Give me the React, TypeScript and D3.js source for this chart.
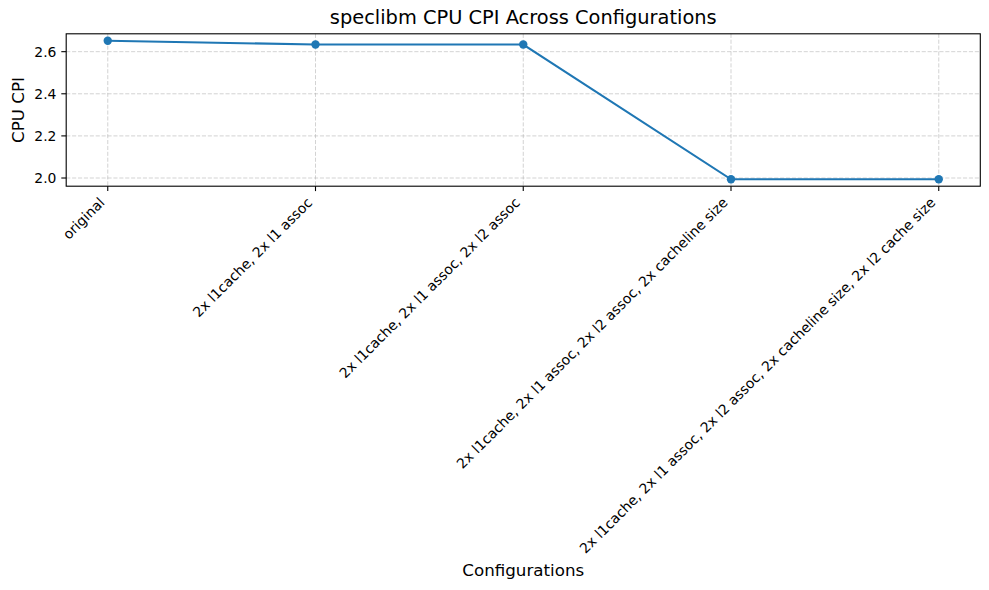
import React from "react";
import * as d3 from "d3";

const categories = [
  "original",
  "2x l1cache, 2x l1 assoc",
  "2x l1cache, 2x l1 assoc, 2x l2 assoc",
  "2x l1cache, 2x l1 assoc, 2x l2 assoc, 2x cacheline size",
  "2x l1cache, 2x l1 assoc, 2x l2 assoc, 2x cacheline size, 2x l2 cache size",
];
const cpiValues = [2.652, 2.634, 2.634, 1.994, 1.994];
const yTicks = [2.0, 2.2, 2.4, 2.6];

const W = 989;
const H = 590;
const left = 66.2;
const right = 980.3;
const top = 33.8;
const bottom = 186.2;
const FONT = "DejaVu Sans, sans-serif";

export default function App() {
  const n = categories.length;
  const x = d3
    .scaleLinear()
    .domain([-0.2, n - 1 + 0.2])
    .range([left, right]);
  const ymin = d3.min(cpiValues)!;
  const ymax = d3.max(cpiValues)!;
  const pad = (ymax - ymin) * 0.05;
  const y = d3
    .scaleLinear()
    .domain([ymin - pad, ymax + pad])
    .range([bottom, top]);
  const line = d3
    .line<number>()
    .x((_, i) => x(i))
    .y((d) => y(d));

  const tickLen = 4.9;
  const labelTop = bottom + tickLen + 4.9;
  const fs = 13.9;
  const asc = fs * 0.76;
  const desc = fs * 0.24;
  const s2 = Math.SQRT2;

  return (
    <svg width={W} height={H} style={{ display: "block", position: "absolute", left: 0, top: 0 }}>
      <rect x={0} y={0} width={W} height={H} fill="#ffffff" />
      {/* grid */}
      <g stroke="#b0b0b0" strokeOpacity={0.7} strokeWidth={0.8} strokeDasharray="4.1,1.8">
        {categories.map((_, i) => (
          <line key={"gx" + i} x1={x(i)} x2={x(i)} y1={top} y2={bottom} />
        ))}
        {yTicks.map((t) => (
          <line key={"gy" + t} x1={left} x2={right} y1={y(t)} y2={y(t)} />
        ))}
      </g>
      {/* line and markers */}
      <path d={line(cpiValues) || ""} fill="none" stroke="#1f77b4" strokeWidth={2.08} />
      {cpiValues.map((v, i) => (
        <circle key={"p" + i} cx={x(i)} cy={y(v)} r={4.2} fill="#1f77b4" />
      ))}
      {/* frame */}
      <rect x={left} y={top} width={right - left} height={bottom - top} fill="none" stroke="#000" strokeWidth={1.1} />
      {/* y ticks */}
      {yTicks.map((t) => (
        <g key={"yt" + t}>
          <line x1={left - tickLen} x2={left} y1={y(t)} y2={y(t)} stroke="#000" strokeWidth={1.1} />
          <text
            x={left - tickLen - 4.9}
            y={y(t)}
            textAnchor="end"
            dominantBaseline="central"
            fontFamily={FONT}
            fontSize={fs}
            fill="#000"
          >
            {t.toFixed(1)}
          </text>
        </g>
      ))}
      {/* x ticks */}
      {categories.map((c, i) => {
        const ox = x(i) - desc / s2;
        const oy = labelTop + asc / s2;
        return (
          <g key={"xt" + i}>
            <line x1={x(i)} x2={x(i)} y1={bottom} y2={bottom + tickLen} stroke="#000" strokeWidth={1.1} />
            <text
              transform={`translate(${ox},${oy}) rotate(-45)`}
              textAnchor="end"
              fontFamily={FONT}
              fontSize={fs}
              fill="#000"
            >
              {c}
            </text>
          </g>
        );
      })}
      {/* title */}
      <text x={(left + right) / 2} y={23.5} textAnchor="middle" fontFamily={FONT} fontSize={19.4} fill="#000">
        speclibm CPU CPI Across Configurations
      </text>
      {/* axis labels */}
      <text x={(left + right) / 2} y={576} textAnchor="middle" fontFamily={FONT} fontSize={16.7} fill="#000">
        Configurations
      </text>
      <text
        transform={`translate(${24},${(top + bottom) / 2}) rotate(-90)`}
        textAnchor="middle"
        fontFamily={FONT}
        fontSize={16.7}
        fill="#000"
      >
        CPU CPI
      </text>
    </svg>
  );
}
